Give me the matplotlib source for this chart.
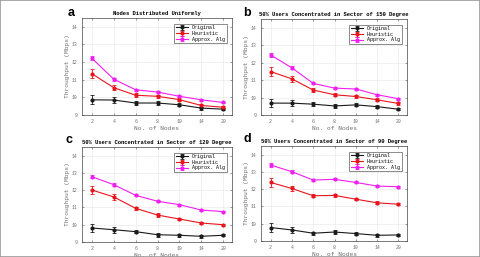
import matplotlib
matplotlib.use("Agg")
import matplotlib.pyplot as plt
from matplotlib.patches import Rectangle

nodes = ["2", "4", "6", "8", "10", "14", "20"]
series_names = ["Original", "Heuristic", "Approx. Alg"]
series_colors = ["#1a1a1a", "#e8141c", "#f01ef0"]

titles = ["Nodes Distributed Uniformly",
          "50% Users Concentrated in Sector of 150 Degree",
          "50% Users Concentrated in Sector of 120 Degree",
          "50% Users Concentrated in Sector of 90 Degree"]
letters = ["a", "b", "c", "d"]

# throughput (Mbps) per panel: original, heuristic, approx
a_orig = [9.86, 9.85, 9.68, 9.68, 9.58, 9.39, 9.33]
a_heur = [11.34, 10.55, 10.12, 10.06, 9.87, 9.54, 9.44]
a_appr = [12.22, 11.03, 10.43, 10.30, 10.06, 9.86, 9.71]

b_orig = [9.68, 9.68, 9.62, 9.52, 9.58, 9.48, 9.33]
b_heur = [11.49, 11.07, 10.43, 10.16, 10.06, 9.87, 9.66]
b_appr = [12.44, 11.70, 10.81, 10.54, 10.49, 10.16, 9.93]

c_orig = [9.81, 9.71, 9.60, 9.42, 9.39, 9.33, 9.39]
c_heur = [12.01, 11.61, 10.95, 10.56, 10.33, 10.10, 10.00]
c_appr = [12.78, 12.32, 11.70, 11.36, 11.16, 10.85, 10.76]

d_orig = [9.78, 9.64, 9.45, 9.52, 9.43, 9.33, 9.35]
d_heur = [12.39, 12.04, 11.62, 11.64, 11.42, 11.21, 11.13]
d_appr = [13.40, 13.01, 12.53, 12.57, 12.39, 12.18, 12.14]

# error bar half-widths
err_orig = [0.25, 0.18, 0.10, 0.12, 0.08, 0.08, 0.06]
err_heur = [0.25, 0.16, 0.10, 0.10, 0.07, 0.08, 0.06]
err_appr = [0.10, 0.08, 0.06, 0.06, 0.06, 0.06, 0.05]

panels = [(a_orig, a_heur, a_appr), (b_orig, b_heur, b_appr),
          (c_orig, c_heur, c_appr), (d_orig, d_heur, d_appr)]
errs = [err_orig, err_heur, err_appr]

W, H = 480, 257
# axes boxes in pixels: left, top, right, bottom
boxes = [(82, 18, 232, 115), (261, 19, 407, 115),
         (82, 147, 232, 242), (261, 146, 407, 241)]
letter_pos = [(68, 16), (243, 16), (66, 143), (243, 142)]

fig = plt.figure(figsize=(4.8, 2.57), dpi=100)
fig.patches.append(Rectangle((0, 0), 1, 1, transform=fig.transFigure,
                             fill=False, edgecolor="#999999", lw=1.2))

mono = "Liberation Mono"
gray = "#707070"
xs = list(range(1, len(nodes) + 1))

for k, (l, t, r, b) in enumerate(boxes):
    ax = fig.add_axes([l / W, 1 - b / H, (r - l) / W, (b - t) / H])
    for vals, e, name, col in zip(panels[k], errs, series_names, series_colors):
        ax.errorbar(xs, vals, yerr=e, color=col, lw=0.8, marker="o", ms=2,
                    elinewidth=0.6, capsize=1.2, capthick=0.6, label=name)
    ax.set_xlim(0.55, 7.4)
    ax.set_ylim(9, 14.5)
    ax.set_xticks(xs)
    ax.set_xticklabels(nodes)
    ax.set_yticks([9, 10, 11, 12, 13, 14])
    ax.tick_params(direction="in", length=1.5, width=0.4, labelsize=3.5,
                   labelcolor=gray, colors="#555555", top=True, right=True, pad=3)
    for lab in ax.get_xticklabels() + ax.get_yticklabels():
        lab.set_family(mono)
    ax.grid(True, color="#e6e6e6", lw=0.4)
    for s in ax.spines.values():
        s.set_linewidth(0.5)
        s.set_color("#444444")
    ax.set_xlabel("No. of Nodes", fontsize=4.5, family=mono, color=gray, labelpad=1.5)
    ax.set_ylabel("Throughput (Mbps)", fontsize=4.5, family=mono, color=gray, labelpad=1.5)
    ax.set_title(titles[k], fontsize=4.0, family=mono, fontweight="bold", pad=2)
    leg = ax.legend(loc="upper right", prop={"family": mono, "size": 3.6},
                    frameon=True, fancybox=False, edgecolor="#333333",
                    handlelength=2.5, borderpad=0.3, labelspacing=0.15,
                    borderaxespad=1.1)
    leg.get_frame().set_linewidth(0.5)
    lx, ly = letter_pos[k]
    fig.text(lx / W, 1 - ly / H, letters[k], fontsize=9, fontweight="bold",
             family="Liberation Sans", va="baseline")

fig.savefig("out.png", dpi=100)
